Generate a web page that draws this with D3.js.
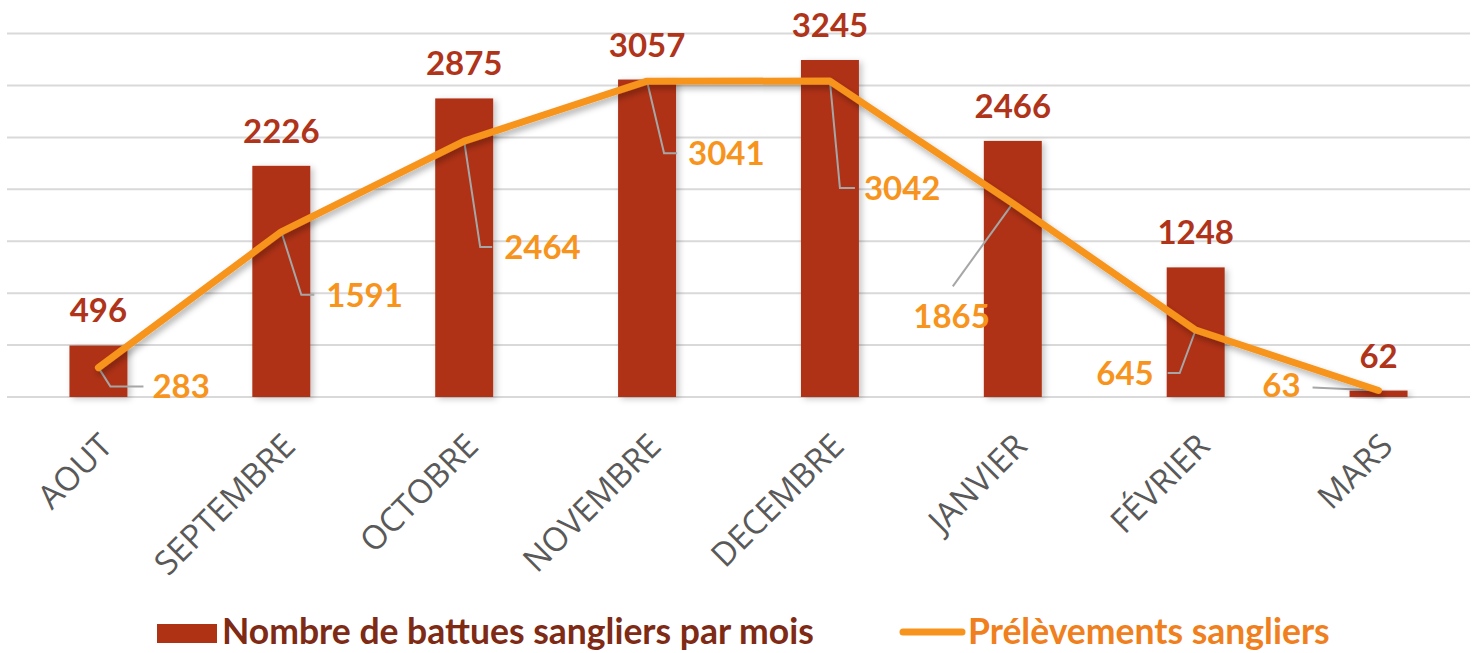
<!DOCTYPE html>
<html>
<head>
<meta charset="utf-8">
<script src="https://cdn.jsdelivr.net/npm/d3@7"></script>
<style>
  body { margin: 0; background: #fff; }
  svg { display: block; }
</style>
</head>
<body>
<div id="chart-area"></div>
<script>
const months = ['AOUT','SEPTEMBRE','OCTOBRE','NOVEMBRE','DECEMBRE','JANVIER','FÉVRIER','MARS'];
const battues = [496, 2226, 2875, 3057, 3245, 2466, 1248, 62];
const prelevements = [283, 1591, 2464, 3041, 3042, 1865, 645, 63];
const yTicks = [0, 500, 1000, 1500, 2000, 2500, 3000, 3500];
const legendNames = ['Nombre de battues sangliers par mois', 'Prélèvements sangliers'];

// label placement for the line values (offset from point): text pos, elbow of leader line
const lineLabelLayout = [
  {tx: 54, ty: 19, anchor: 'start', ex: 12, ey: 19, hx: 45},
  {tx: 45, ty: 63, anchor: 'start', ex: 20, ey: 63, hx: 33},
  {tx: 40, ty: 106, anchor: 'start', ex: 16, ey: 106, hx: 28},
  {tx: 41, ty: 72, anchor: 'start', ex: 17, ey: 72, hx: 30},
  {tx: 34, ty: 107, anchor: 'start', ex: 10, ey: 107, hx: 25},
  {tx: -23, ty: 113, anchor: 'end', ex: -60, ey: 83, hx: -60},
  {tx: -42, ty: 43, anchor: 'end', ex: -16, ey: 43, hx: -28},
  {tx: -78, ty: -5, anchor: 'end', ex: -66, ey: -3, hx: -66}
];

const W = 1479, H = 653;
const plot = {left: 7, right: 1470, top: 0, bottom: 397};

const svg = d3.select('#chart-area').append('svg')
    .attr('width', W)
    .attr('height', H);

const defs = svg.append('defs');
defs.append('filter').attr('id', 'barShadow')
    .attr('x', '-20%').attr('y', '-20%').attr('width', '150%').attr('height', '150%')
  .append('feDropShadow')
    .attr('dx', 3).attr('dy', 2).attr('stdDeviation', 3)
    .attr('flood-color', '#000').attr('flood-opacity', 0.22);
defs.append('filter').attr('id', 'lineShadow')
    .attr('x', '-10%').attr('y', '-10%').attr('width', '120%').attr('height', '130%')
  .append('feDropShadow')
    .attr('dx', 2).attr('dy', 4).attr('stdDeviation', 3)
    .attr('flood-color', '#000').attr('flood-opacity', 0.3);

const x = d3.scaleBand()
    .domain(months)
    .range([plot.left, plot.right])
    .paddingInner(0.683)
    .paddingOuter(0.3415);

const y = d3.scaleLinear()
    .domain([0, 3500])
    .range([plot.bottom, 397 - 3500 * 0.10385]);

const cx = (d) => x(d) + x.bandwidth() / 2;

// gridlines
svg.append('g').attr('class', 'grid')
  .selectAll('line')
  .data(yTicks)
  .enter().append('line')
    .attr('x1', plot.left)
    .attr('x2', plot.right)
    .attr('y1', (d) => y(d))
    .attr('y2', (d) => y(d))
    .attr('stroke', '#d9d9d9')
    .attr('stroke-width', 2);

// bars
svg.append('g').attr('class', 'bars')
  .selectAll('rect')
  .data(battues)
  .enter().append('rect')
    .attr('x', (d, i) => x(months[i]))
    .attr('y', (d) => y(d))
    .attr('width', x.bandwidth())
    .attr('height', (d) => y(0) - y(d))
    .attr('fill', '#b03214')
    .attr('filter', 'url(#barShadow)');

svg.append('g').attr('class', 'bar-labels')
  .selectAll('text')
  .data(battues)
  .enter().append('text')
    .attr('x', (d, i) => cx(months[i]))
    .attr('y', (d) => y(d) - 23)
    .attr('text-anchor', 'middle')
    .attr('font-family', 'Lato, sans-serif')
    .attr('font-weight', 700)
    .attr('font-size', 33)
    .attr('fill', '#b0341a')
    .text((d) => d);

// leader lines for line labels
const pts = prelevements.map((d, i) => [cx(months[i]), y(d)]);

svg.append('g').attr('class', 'leaders')
  .selectAll('polyline')
  .data(lineLabelLayout)
  .enter().append('polyline')
    .attr('points', (l, i) => {
      const p = pts[i];
      return [p, [p[0] + l.ex, p[1] + l.ey], [p[0] + l.hx, p[1] + l.ey]].map((q) => q.join(',')).join(' ');
    })
    .attr('fill', 'none')
    .attr('stroke', '#a6a6a6')
    .attr('stroke-width', 2);

// line
const line = d3.line()
    .x((d, i) => cx(months[i]))
    .y((d) => y(d));

svg.append('path')
    .datum(prelevements)
    .attr('d', line)
    .attr('fill', 'none')
    .attr('stroke', '#f7941d')
    .attr('stroke-width', 7)
    .attr('stroke-linejoin', 'round')
    .attr('stroke-linecap', 'round')
    .attr('filter', 'url(#lineShadow)');

svg.append('g').attr('class', 'line-labels')
  .selectAll('text')
  .data(prelevements)
  .enter().append('text')
    .attr('x', (d, i) => pts[i][0] + lineLabelLayout[i].tx)
    .attr('y', (d, i) => pts[i][1] + lineLabelLayout[i].ty)
    .attr('dy', '0.36em')
    .attr('text-anchor', (d, i) => lineLabelLayout[i].anchor)
    .attr('font-family', 'Lato, sans-serif')
    .attr('font-weight', 700)
    .attr('font-size', 33)
    .attr('fill', '#f7941d')
    .text((d) => d);

// x axis labels (rotated)
svg.append('g').attr('class', 'x-axis')
  .selectAll('text')
  .data(months)
  .enter().append('text')
    .attr('transform', (d) => `translate(${cx(d) + 16},${448}) rotate(-45)`)
    .attr('text-anchor', 'end')
    .attr('font-family', '"Open Sans", sans-serif')
    .attr('font-size', 33)
    .attr('fill', '#595959')
    .text((d) => d);

// legend (kept just inside the bottom edge)
const legend = svg.append('g').attr('class', 'legend');
legend.append('rect')
    .attr('x', 157).attr('y', 624)
    .attr('width', 60).attr('height', 19)
    .attr('fill', '#b03214');
legend.append('text')
    .attr('x', 222).attr('y', 644)
    .attr('font-family', 'Lato, sans-serif')
    .attr('font-weight', 700)
    .attr('font-size', 35.5)
    .attr('fill', '#7e2a15')
    .text(legendNames[0]);
legend.append('line')
    .attr('x1', 903).attr('x2', 962)
    .attr('y1', 632).attr('y2', 632)
    .attr('stroke', '#f7941d')
    .attr('stroke-width', 7)
    .attr('stroke-linecap', 'round');
legend.append('text')
    .attr('x', 968).attr('y', 644)
    .attr('font-family', 'Lato, sans-serif')
    .attr('font-weight', 700)
    .attr('font-size', 35.5)
    .attr('fill', '#f07f1e')
    .text(legendNames[1]);
</script>
</body>
</html>
